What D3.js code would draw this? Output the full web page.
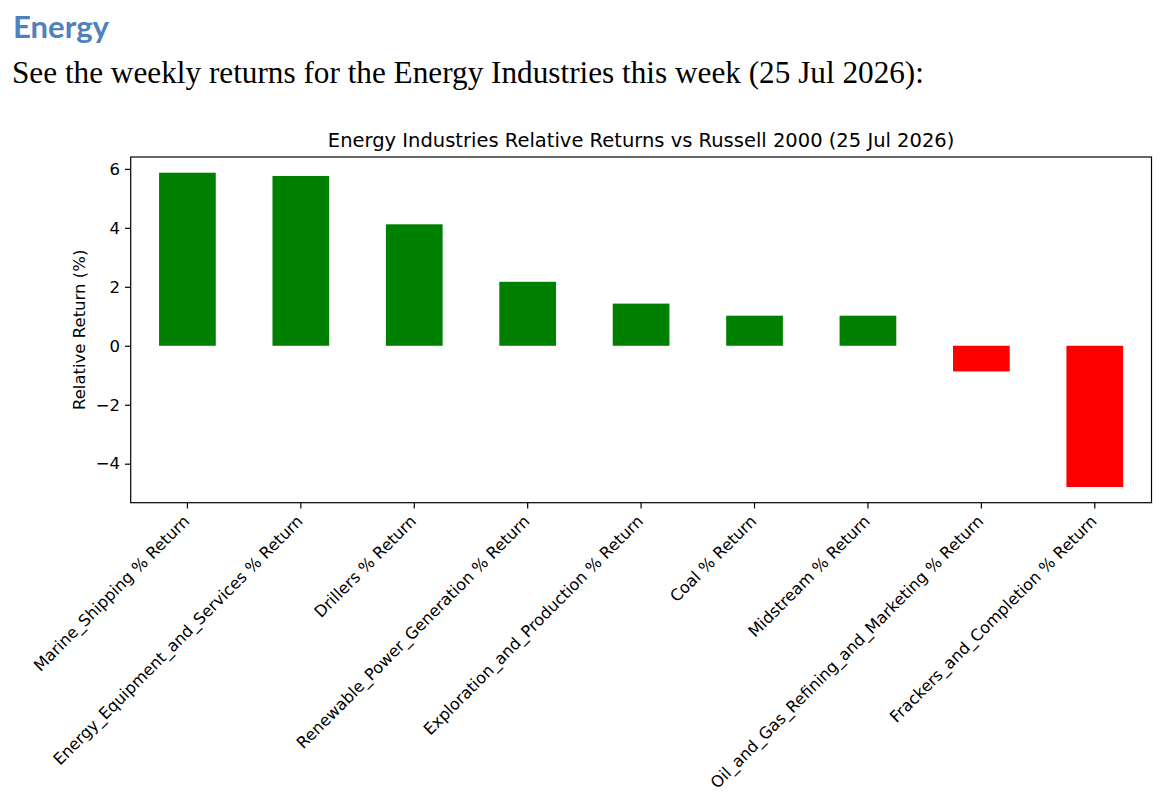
<!DOCTYPE html>
<html>
<head>
<meta charset="utf-8">
<script src="https://cdn.jsdelivr.net/npm/d3@7"></script>
<style>
  html, body { margin: 0; padding: 0; background: #fff; }
  svg { display: block; }
</style>
</head>
<body>
<svg id="chart" width="1164" height="798"></svg>
<script>
// ---- data ----
const categories = [
  "Marine_Shipping % Return",
  "Energy_Equipment_and_Services % Return",
  "Drillers % Return",
  "Renewable_Power_Generation % Return",
  "Exploration_and_Production % Return",
  "Coal % Return",
  "Midstream % Return",
  "Oil_and_Gas_Refining_and_Marketing % Return",
  "Frackers_and_Completion % Return"
];
const values = [5.87, 5.76, 4.12, 2.17, 1.43, 1.02, 1.02, -0.87, -4.79];
const yTicks = [-4, -2, 0, 2, 4, 6];
const headingText = "Energy";
const introText = "See the weekly returns for the Energy Industries this week (25 Jul 2026):";
const chartTitle = "Energy Industries Relative Returns vs Russell 2000 (25 Jul 2026)";
const yLabel = "Relative Return (%)";

// ---- layout ----
const svg = d3.select("#chart");
const ax = { left: 130.7, right: 1151.5, top: 157, bottom: 502.7 };
const chartFont = "'DejaVu Sans', sans-serif";
const fsSmall = 16.5, fsTick = 16.1, fsTitle = 19.5, tickLen = 5.7;

function fitText(sel, targetWidth) {
  const node = sel.node();
  const fs = parseFloat(sel.attr("font-size"));
  const w = node.getComputedTextLength();
  sel.attr("font-size", (fs * targetWidth / w).toFixed(2));
}
const h = svg.append("text")
  .attr("x", 13).attr("y", 37.5)
  .attr("font-family", "Lato, 'Open Sans', sans-serif")
  .attr("font-weight", 700)
  .attr("font-size", 30)
  .attr("fill", "#4f81bd")
  .text(headingText);
fitText(h, 96);

const sub = svg.append("text")
  .attr("x", 12).attr("y", 82.5)
  .attr("font-family", "'Liberation Serif', 'DejaVu Serif', serif")
  .attr("font-size", 26)
  .attr("fill", "#000")
  .text(introText);
fitText(sub, 912);

// ---- scales ----
const yMin = d3.min(values), yMax = d3.max(values);
const pad = (yMax - yMin) * 0.05;
const y = d3.scaleLinear().domain([yMin - pad, yMax + pad]).range([ax.bottom, ax.top]);
const x = d3.scaleBand().domain(categories).range([ax.left, ax.right])
  .paddingInner(0.5).paddingOuter(0.25);

// bars
svg.append("g").selectAll("rect").data(values).join("rect")
  .attr("x", (d, i) => x(categories[i]))
  .attr("width", x.bandwidth())
  .attr("y", d => y(Math.max(0, d)))
  .attr("height", d => Math.abs(y(d) - y(0)))
  .attr("fill", d => d >= 0 ? "#008000" : "#ff0000");

// y axis
const fmt = d => (d < 0 ? "\u2212" + Math.abs(d) : String(d));
const yAxis = svg.append("g")
  .attr("transform", `translate(${ax.left},0)`)
  .call(d3.axisLeft(y).tickValues(yTicks).tickFormat(fmt).tickSize(tickLen).tickPadding(5));
yAxis.select(".domain").remove();
yAxis.selectAll(".tick line").attr("stroke", "#000").attr("stroke-width", 1.2);
yAxis.selectAll(".tick text")
  .attr("font-family", chartFont).attr("font-size", fsSmall).attr("fill", "#000");

// x axis
const xAxis = svg.append("g")
  .attr("transform", `translate(0,${ax.bottom})`)
  .call(d3.axisBottom(x).tickSize(tickLen).tickFormat(""));
xAxis.select(".domain").remove();
xAxis.selectAll(".tick line").attr("stroke", "#000").attr("stroke-width", 1.2);

// rotated x tick labels
svg.append("g").selectAll("text").data(categories).join("text")
  .attr("transform", d => `translate(${x(d) + x.bandwidth() / 2 + 3},${ax.bottom + 19.5}) rotate(-45)`)
  .attr("text-anchor", "end")
  .attr("font-family", chartFont)
  .attr("font-size", fsTick)
  .attr("fill", "#000")
  .text(d => d);

// frame
svg.append("rect")
  .attr("x", ax.left).attr("y", ax.top)
  .attr("width", ax.right - ax.left).attr("height", ax.bottom - ax.top)
  .attr("fill", "none").attr("stroke", "#000").attr("stroke-width", 1.2);

// title
svg.append("text")
  .attr("x", (ax.left + ax.right) / 2).attr("y", 146.7)
  .attr("text-anchor", "middle")
  .attr("font-family", chartFont)
  .attr("font-size", fsTitle)
  .attr("fill", "#000")
  .text(chartTitle);

// y label
svg.append("text")
  .attr("transform", `translate(85,${(ax.top + ax.bottom) / 2}) rotate(-90)`)
  .attr("text-anchor", "middle")
  .attr("font-family", chartFont)
  .attr("font-size", fsSmall)
  .attr("fill", "#000")
  .text(yLabel);
</script>
</body>
</html>
